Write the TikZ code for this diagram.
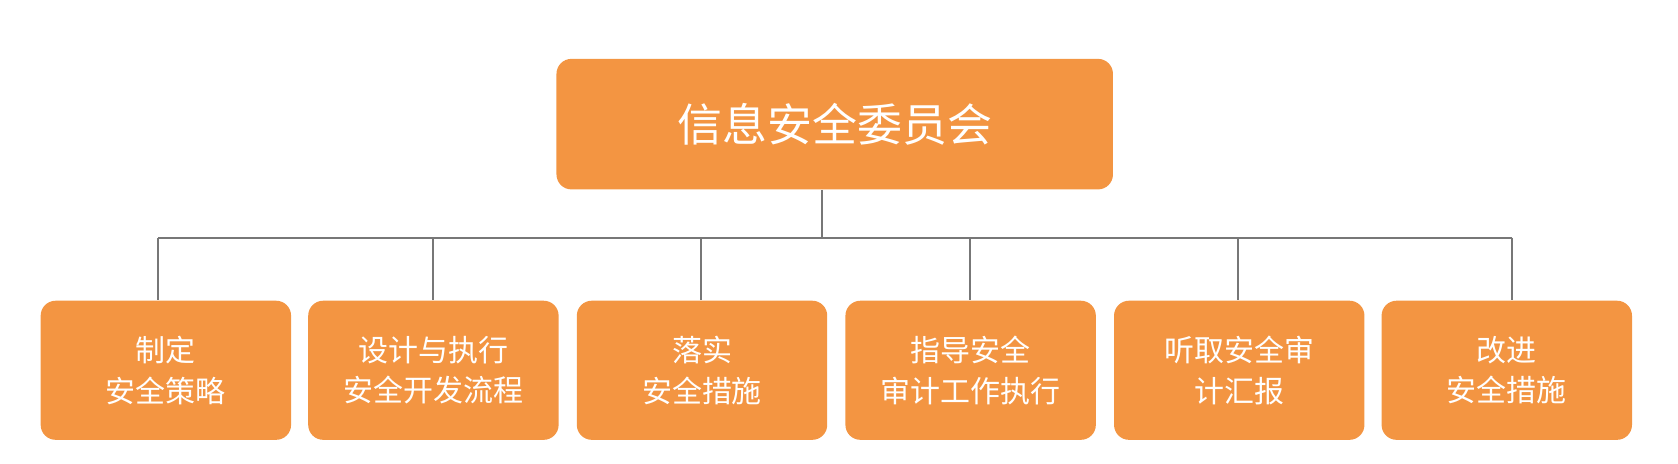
\documentclass[tikz,border=0pt]{standalone}
\usepackage{fontspec}
\setmainfont{Noto Sans CJK SC}
\definecolor{org}{HTML}{F39542}
\definecolor{ln}{HTML}{777777}
\begin{document}
\begin{tikzpicture}[x=0.5pt,y=-0.5pt,
  box/.style={fill=org,rounded corners=7pt,text=white,align=center,inner sep=0pt},
  conn/.style={draw=ln,line width=1pt}]
\node[box,minimum width=260pt,minimum height=61pt,font=\fontsize{21}{26}\selectfont] (top) at (780,116) {信息安全委员会};
\foreach \n/\cx/\t in {b1/155/{制定\\安全策略},b2/405/{设计与执行\\安全开发流程},b3/656/{落实\\安全措施},b4/907/{指导安全\\审计工作执行},b5/1158/{听取安全审\\计汇报},b6/1408/{改进\\安全措施}}
  \node[box,minimum width=117pt,minimum height=65pt,font=\fontsize{14}{19}\selectfont] (\n) at (\cx,346) {\t};
\coordinate (bus) at (768,222);
\draw[conn] (top.south -| bus) -- (bus);
\draw[conn] (148,222) -- (1413,222);
\foreach \n/\x in {b1/148,b2/405,b3/655,b4/906,b5/1157,b6/1413}
  \draw[conn] (\x,222) -- (\n.north -| \x,0);
\pgfresetboundingbox
\useasboundingbox (0,0) rectangle (1568,433);
\end{tikzpicture}
\end{document}
